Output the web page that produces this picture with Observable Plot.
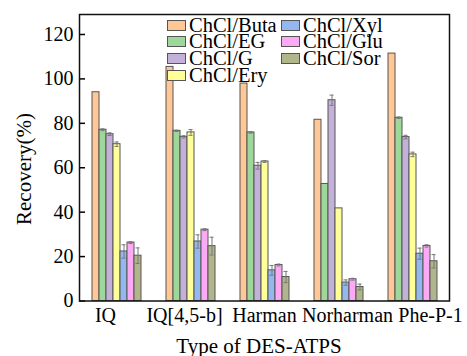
<!DOCTYPE html>
<html><head><meta charset="utf-8">
<script src="https://cdn.jsdelivr.net/npm/d3@7"></script>
<script src="https://cdn.jsdelivr.net/npm/@observablehq/plot@0.6"></script>
<style>
body{margin:0;background:#fff;}
#wrap{position:relative;width:467px;height:356px;overflow:hidden;font-family:"Liberation Serif","Times New Roman",serif;color:#000;}
#wrap svg, #wrap svg text{font-family:"Liberation Serif","Times New Roman",serif !important;}
.row{position:absolute;height:16px;display:flex;align-items:center;font-size:20.5px;white-space:nowrap;}
.sw{width:17px;height:9px;border:1px solid #555;margin-right:3px;flex:none;}
.title{position:absolute;font-size:21px;white-space:nowrap;line-height:21px;}
</style></head><body><div id="wrap"></div>
<script>
const groups = ["IQ", "IQ[4,5-b]", "Harman", "Norharman", "Phe-P-1"];
const series = ["ChCl/Buta", "ChCl/EG", "ChCl/G", "ChCl/Ery", "ChCl/Xyl", "ChCl/Glu", "ChCl/Sor"];
const colors = ["#FEC795", "#9DD89A", "#C3B1D9", "#FFFF99", "#93B7EE", "#FDAAF6", "#B1B58C"];
const yTicks = [0, 20, 40, 60, 80, 100, 120];

const buta = [94.0, 105.4, 97.9, 81.6, 111.4];
const eg   = [77.1, 76.6, 75.9, 52.7, 82.5];
const g    = [75.1, 73.9, 60.9, 90.4, 73.8];
const ery  = [70.6, 75.9, 62.8, 41.7, 66.0];
const xyl  = [22.3, 26.8, 13.8, 8.3, 21.3];
const glu  = [26.3, 32.1, 16.2, 9.8, 24.8];
const sor  = [20.4, 24.7, 10.8, 6.3, 17.9];

const butaErr = [0, 0, 0, 0, 0];
const egErr   = [0.4, 0.3, 0.3, 0, 0.3];
const gErr    = [0.6, 0.5, 1.5, 2.3, 0.8];
const eryErr  = [1.0, 1.3, 0.4, 0, 1.0];
const xylErr  = [3.0, 3.0, 2.2, 1.2, 2.5];
const gluErr  = [0.4, 0.4, 0.4, 0.4, 0.5];
const sorErr  = [3.5, 4.0, 2.5, 1.3, 3.0];

const values = [buta, eg, g, ery, xyl, glu, sor];
const errors = [butaErr, egErr, gErr, eryErr, xylErr, gluErr, sorErr];

const rows = [];
groups.forEach((grp, i) => series.forEach((s, j) => rows.push({group: grp, series: s, value: values[j][i], err: errors[j][i]})));
const errRows = rows.filter(d => d.err > 0);

// small horizontal nudges of the category labels, as in the original figure
const labelNudge = [-11, -6, 0, 9, 18];

const chart = Plot.plot({
  width: 467, height: 356,
  marginLeft: 77, marginRight: 17, marginTop: 14, marginBottom: 55.5,
  style: {fontFamily: "'Liberation Serif', 'Times New Roman', serif", fontSize: "20px", background: "transparent", color: "#000"},
  fx: {domain: groups, paddingInner: 0, paddingOuter: 0, label: null},
  x: {domain: series, axis: null, paddingInner: 0, paddingOuter: 1.33},
  y: {domain: [0, 129], label: null},
  color: {domain: series, range: colors},
  marks: [
    Plot.barY(rows, {fx: "group", x: "series", y: "value", fill: "series", stroke: "#555", strokeWidth: 1}),
    Plot.ruleX(errRows, {fx: "group", x: "series", y1: d => d.value - d.err, y2: d => d.value + d.err, stroke: "#777"}),
    Plot.tickY(errRows, {fx: "group", x: "series", y: d => d.value + d.err, stroke: "#777", insetLeft: 1.5, insetRight: 1.5}),
    Plot.tickY(errRows, {fx: "group", x: "series", y: d => d.value - d.err, stroke: "#777", insetLeft: 1.5, insetRight: 1.5}),
    Plot.axisY({ticks: yTicks, tickSize: 0, tickPadding: 6, label: null, fontSize: 20}),
    Plot.axisY({ticks: yTicks, tickSize: -6, tickFormat: () => "", label: null, strokeWidth: 1.5}),
    ...groups.map((grp, i) => Plot.axisFx({ticks: [grp], anchor: "bottom", tickSize: 0, tickPadding: 7, label: null, fontSize: 20, dx: labelNudge[i]})),
    Plot.frame({facet: "super", stroke: "#111", strokeWidth: 1.5})
  ]
});
const wrap = document.getElementById("wrap");
wrap.appendChild(chart);

// legend
const legCols = [[167, [0, 1, 2, 3]], [281, [4, 5, 6]]];
const rowY = [25, 41.7, 58.3, 75];
legCols.forEach(([x, idx]) => idx.forEach((k, r) => {
  const el = document.createElement("div");
  el.className = "row";
  el.style.left = x + "px";
  el.style.top = (rowY[r] - 8) + "px";
  el.innerHTML = `<div class="sw" style="background:${colors[k]}"></div><span>${series[k]}</span>`;
  wrap.appendChild(el);
}));

// axis titles
const yt = document.createElement("div");
yt.className = "title";
yt.textContent = "Recovery(%)";
yt.style.left = "24px"; yt.style.top = "169px";
yt.style.transform = "translate(-50%,-50%) rotate(-90deg)";
wrap.appendChild(yt);
const xt = document.createElement("div");
xt.className = "title";
xt.textContent = "Type of DES-ATPS";
xt.style.left = "259px"; xt.style.top = "346px";
xt.style.transform = "translate(-50%,-50%)";
wrap.appendChild(xt);
</script>
</body></html>
